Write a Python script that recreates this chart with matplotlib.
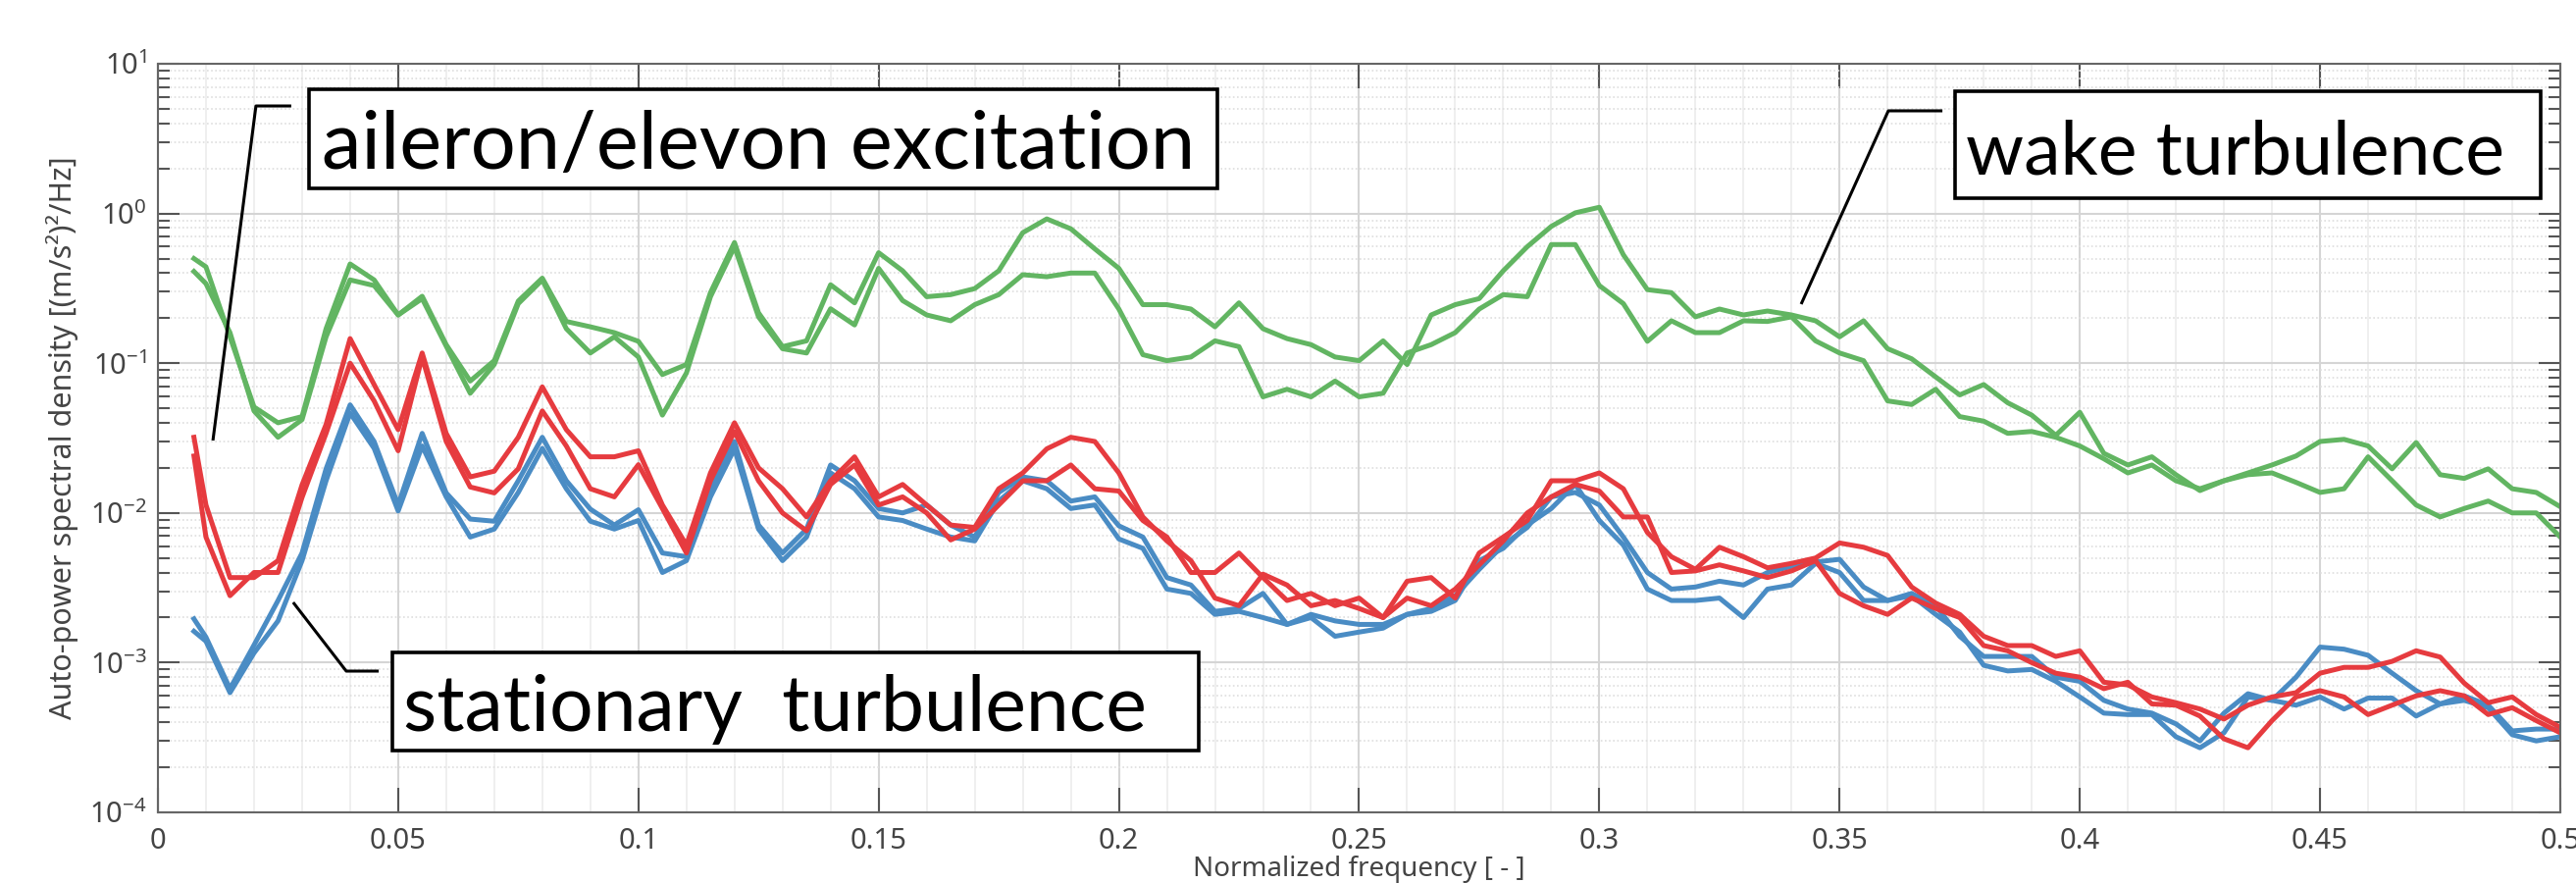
import numpy as np
import matplotlib
matplotlib.use('Agg')
from matplotlib import pyplot as plt
from matplotlib.ticker import LogLocator, MultipleLocator, FormatStrFormatter, NullFormatter
from matplotlib.patches import Rectangle

# normalized frequency grid of the spectra
freq = np.concatenate([[0.0075], np.arange(0.01, 0.5001, 0.005)])

# wake turbulence (green)
wake_1 = [0.50,
          0.44, 0.15, 0.051, 0.040, 0.044, 0.17, 0.46, 0.36, 0.21, 0.28,
          0.133, 0.076, 0.104, 0.26, 0.37, 0.19, 0.175, 0.16, 0.14, 0.084,
          0.098, 0.296, 0.64, 0.217, 0.129, 0.141, 0.334, 0.253, 0.547, 0.414,
          0.278, 0.287, 0.315, 0.414, 0.744, 0.92, 0.79, 0.58, 0.43, 0.246,
          0.246, 0.23, 0.175, 0.253, 0.17, 0.146, 0.133, 0.11, 0.104, 0.141,
          0.098, 0.21, 0.246, 0.27, 0.414, 0.60, 0.82, 1.01, 1.10, 0.53,
          0.31, 0.296, 0.204, 0.23, 0.21, 0.223, 0.21, 0.192, 0.150, 0.192,
          0.125, 0.107, 0.081, 0.0614, 0.072, 0.0544, 0.045, 0.033, 0.047, 0.025,
          0.0209, 0.0237, 0.018, 0.0141, 0.0164, 0.0185, 0.0209, 0.024, 0.030, 0.031,
          0.028, 0.0197, 0.0295, 0.018, 0.017, 0.0197, 0.0145, 0.0137, 0.011]
wake_2 = [0.41,
          0.34, 0.16, 0.048, 0.032, 0.042, 0.15, 0.36, 0.33, 0.21, 0.27,
          0.13, 0.063, 0.098, 0.25, 0.36, 0.17, 0.117, 0.15, 0.11, 0.045,
          0.086, 0.278, 0.60, 0.204, 0.125, 0.117, 0.231, 0.18, 0.43, 0.262,
          0.21, 0.192, 0.246, 0.287, 0.39, 0.378, 0.40, 0.40, 0.23, 0.114,
          0.104, 0.11, 0.141, 0.129, 0.0596, 0.067, 0.0596, 0.076, 0.0596, 0.063,
          0.117, 0.133, 0.16, 0.23, 0.287, 0.278, 0.62, 0.62, 0.33, 0.25,
          0.14, 0.192, 0.16, 0.16, 0.192, 0.19, 0.204, 0.141, 0.117, 0.104,
          0.056, 0.053, 0.067, 0.044, 0.041, 0.034, 0.035, 0.032, 0.028, 0.023,
          0.0185, 0.0209, 0.0164, 0.0145, 0.0164, 0.018, 0.0185, 0.016, 0.0137, 0.0145,
          0.0237, 0.0164, 0.0113, 0.0094, 0.0107, 0.012, 0.010, 0.010, 0.0069]

# aileron/elevon excitation (red)
aileron_1 = [0.032,
             0.0113, 0.0037, 0.0037, 0.0048, 0.0154, 0.039, 0.146, 0.072, 0.036, 0.117,
             0.034, 0.0174, 0.019, 0.032, 0.0695, 0.036, 0.0237, 0.0237, 0.026, 0.0113,
             0.0061, 0.0185, 0.040, 0.020, 0.0145, 0.0094, 0.0164, 0.0237, 0.0128, 0.0155,
             0.0113, 0.0083, 0.0080, 0.0145, 0.0185, 0.0268, 0.032, 0.030, 0.0185, 0.0094,
             0.0065, 0.0048, 0.0027, 0.0024, 0.0039, 0.0033, 0.0024, 0.0026, 0.0023, 0.0020,
             0.0035, 0.0037, 0.0027, 0.0054, 0.0069, 0.0089, 0.0164, 0.0164, 0.0185, 0.0145,
             0.0074, 0.0051, 0.0042, 0.0059, 0.0051, 0.0043, 0.0046, 0.0050, 0.0063, 0.0059,
             0.0052, 0.0032, 0.0025, 0.0021, 0.0015, 0.0013, 0.0013, 0.0011, 0.0012, 0.00074,
             0.00071, 0.00059, 0.00054, 0.00049, 0.00042, 0.00052, 0.00059, 0.00063, 0.00085, 0.00093,
             0.00093, 0.00102, 0.0012, 0.00109, 0.00073, 0.00054, 0.00059, 0.00045, 0.00037]
aileron_2 = [0.024,
             0.0069, 0.0028, 0.0040, 0.0040, 0.0127, 0.034, 0.10, 0.056, 0.026, 0.110,
             0.030, 0.0149, 0.0136, 0.0197, 0.048, 0.028, 0.0145, 0.0128, 0.021, 0.0107,
             0.0054, 0.0164, 0.035, 0.0164, 0.010, 0.0076, 0.0155, 0.0209, 0.0113, 0.0128,
             0.010, 0.0066, 0.0078, 0.0113, 0.0164, 0.0164, 0.0209, 0.0145, 0.014, 0.0089,
             0.0069, 0.0040, 0.0040, 0.0054, 0.0037, 0.0026, 0.0029, 0.0024, 0.0027, 0.0020,
             0.0027, 0.0024, 0.0031, 0.0045, 0.0065, 0.010, 0.0128, 0.0155, 0.014, 0.0094,
             0.0094, 0.0040, 0.0041, 0.0045, 0.0041, 0.0037, 0.0041, 0.0048, 0.0029, 0.0024,
             0.0021, 0.0027, 0.0023, 0.0020, 0.0013, 0.0012, 0.0010, 0.00085, 0.00080, 0.00067,
             0.00074, 0.00053, 0.00052, 0.00044, 0.00031, 0.00027, 0.00041, 0.00059, 0.00065, 0.00059,
             0.00045, 0.00052, 0.0006, 0.00065, 0.0006, 0.00045, 0.0005, 0.00041, 0.00034]

# stationary turbulence (blue)
stationary_1 = [0.00196,
                0.00148, 0.00067, 0.00131, 0.0026, 0.0054, 0.0197, 0.0527, 0.030, 0.0113, 0.034,
                0.0136, 0.0091, 0.0088, 0.0164, 0.032, 0.0164, 0.0106, 0.0083, 0.0105, 0.0054,
                0.0051, 0.0145, 0.030, 0.0083, 0.0054, 0.0078, 0.0209, 0.0164, 0.0107, 0.010,
                0.0113, 0.0083, 0.0069, 0.0137, 0.0174, 0.0164, 0.012, 0.0128, 0.0082, 0.0069,
                0.0037, 0.0033, 0.0022, 0.0023, 0.0029, 0.0018, 0.0021, 0.0019, 0.0018, 0.0018,
                0.0021, 0.0023, 0.0028, 0.0042, 0.0061, 0.0080, 0.0128, 0.0137, 0.0113, 0.0069,
                0.0040, 0.0031, 0.0032, 0.0035, 0.0033, 0.0040, 0.0044, 0.0047, 0.0049, 0.0032,
                0.0026, 0.0029, 0.0024, 0.0015, 0.0011, 0.0011, 0.0011, 0.00080, 0.00075, 0.00056,
                0.00049, 0.00046, 0.00039, 0.0003, 0.00046, 0.00062, 0.00056, 0.0008, 0.00127, 0.00123,
                0.00112, 0.00085, 0.00065, 0.00053, 0.0006, 0.00052, 0.00035, 0.00036, 0.00036]
stationary_2 = [0.00162,
                0.00139, 0.00063, 0.00116, 0.0019, 0.0048, 0.0164, 0.0465, 0.027, 0.0103, 0.028,
                0.0128, 0.0069, 0.0078, 0.0137, 0.027, 0.0145, 0.0088, 0.0078, 0.0089, 0.0040,
                0.0048, 0.0128, 0.0268, 0.0078, 0.0048, 0.0069, 0.0185, 0.0145, 0.0094, 0.0089,
                0.0078, 0.0069, 0.0065, 0.012, 0.0164, 0.0145, 0.0107, 0.0113, 0.0067, 0.0058,
                0.0031, 0.0029, 0.0021, 0.0022, 0.0020, 0.0018, 0.0020, 0.0015, 0.0016, 0.0017,
                0.0021, 0.0022, 0.0026, 0.0048, 0.0058, 0.0083, 0.0107, 0.0155, 0.0089, 0.0061,
                0.0031, 0.0026, 0.0026, 0.0027, 0.0020, 0.0031, 0.0033, 0.0046, 0.0040, 0.0026,
                0.0026, 0.0028, 0.0021, 0.0016, 0.00096, 0.00088, 0.00090, 0.00075, 0.00059, 0.00046,
                0.00045, 0.00045, 0.00032, 0.00027, 0.00034, 0.00059, 0.00056, 0.00052, 0.00059, 0.00049,
                0.00058, 0.00058, 0.00044, 0.00053, 0.00056, 0.0005, 0.00033, 0.0003, 0.00032]

GREEN = '#62b562'
RED = '#e63b3f'
BLUE = '#4a8cc4'

plt.rcParams['font.family'] = ['Noto Sans', 'DejaVu Sans']
plt.rcParams['mathtext.fontset'] = 'custom'
plt.rcParams['mathtext.rm'] = 'Noto Sans'
plt.rcParams['mathtext.default'] = 'regular'

fig = plt.figure(figsize=(26.26, 9), dpi=100)
ax = fig.add_axes([0.0613, 0.08, 0.9326, 0.8478])

for y in (wake_1, wake_2):
    ax.plot(freq, y, color=GREEN, lw=3.6)
for y in (stationary_1, stationary_2):
    ax.plot(freq, y, color=BLUE, lw=3.6)
for y in (aileron_1, aileron_2):
    ax.plot(freq, y, color=RED, lw=3.6)

ax.set_yscale('log')
ax.set_xlim(0, 0.5)
ax.set_ylim(1e-4, 1e1)
ax.yaxis.set_major_locator(LogLocator(base=10, numticks=10))
ax.yaxis.set_minor_locator(LogLocator(base=10, subs=np.arange(2, 10), numticks=20))
ax.yaxis.set_minor_formatter(NullFormatter())
ax.xaxis.set_major_locator(MultipleLocator(0.05))
ax.xaxis.set_minor_locator(MultipleLocator(0.01))
ax.xaxis.set_major_formatter(FormatStrFormatter('%g'))

ax.tick_params(which='both', direction='in', top=True, right=True,
               color='#555555', labelcolor='#444444', labelsize=21, width=1.5)
ax.tick_params(axis='y', which='major', length=16, pad=8)
ax.tick_params(axis='y', which='minor', length=8.5)
ax.tick_params(axis='x', which='major', length=18, pad=11)
ax.tick_params(axis='x', which='minor', length=0)

ax.set_axisbelow(True)
ax.grid(True, which='major', color='#d5d5d5', lw=1.5)
ax.grid(True, which='minor', axis='x', color='#ececec', lw=1.2)
ax.grid(True, which='minor', axis='y', color='#dedede', lw=1.2, ls=(0, (1, 1.5)))
for s in ax.spines.values():
    s.set_color('#666666')
    s.set_linewidth(1.5)

ax.set_ylabel('Auto-power spectral density [(m/s²)²/Hz]', fontsize=22, color='#444444')
ax.yaxis.set_label_coords(-0.033, 0.5)
ax.set_xlabel('Normalized frequency [ - ]', fontsize=20, color='#444444', labelpad=0)

# annotation boxes: text, box (x0, y0, x1, y1), text start, baseline, text width (axes fraction)
notes = [
    ('aileron/elevon excitation', (0.0629, 0.8336, 0.441, 0.9659), 0.0682, 0.8598, 0.3634,
     [(0.0229, 0.4967), (0.0408, 0.9436), (0.0555, 0.9436)]),
    ('stationary  turbulence', (0.0976, 0.0826, 0.4332, 0.2136), 0.1021, 0.1088, 0.3095,
     [(0.0563, 0.2805), (0.0784, 0.1887), (0.0919, 0.1887)]),
    ('wake turbulence', (0.748, 0.8204, 0.9918, 0.9633), 0.7526, 0.8519, 0.2242,
     [(0.684, 0.6789), (0.7203, 0.9371), (0.7428, 0.9371)]),
]

texts = []
for label, box, tx, ty, tw, leader in notes:
    x0, y0, x1, y1 = box
    ax.add_patch(Rectangle((x0, y0), x1 - x0, y1 - y0, transform=ax.transAxes,
                           facecolor='white', edgecolor='black', lw=2.6, zorder=5,
                           clip_on=False))
    lx = [p[0] for p in leader]
    ly = [p[1] for p in leader]
    ax.plot(lx, ly, color='black', lw=2.2, transform=ax.transAxes, zorder=5,
            clip_on=False, solid_capstyle='butt')
    t = ax.text(tx, ty, label, transform=ax.transAxes, fontsize=40, family='Lato',
                ha='left', va='baseline', color='black', zorder=6)
    texts.append((t, tw))

# fit the annotation font size to the width of the text in the reference
fig.canvas.draw()
renderer = fig.canvas.get_renderer()
ax_w = ax.get_window_extent(renderer).width
for t, tw in texts:
    w = t.get_window_extent(renderer).width
    t.set_fontsize(40 * tw * ax_w / w)

fig.savefig('out.png', dpi=100, facecolor='white')
